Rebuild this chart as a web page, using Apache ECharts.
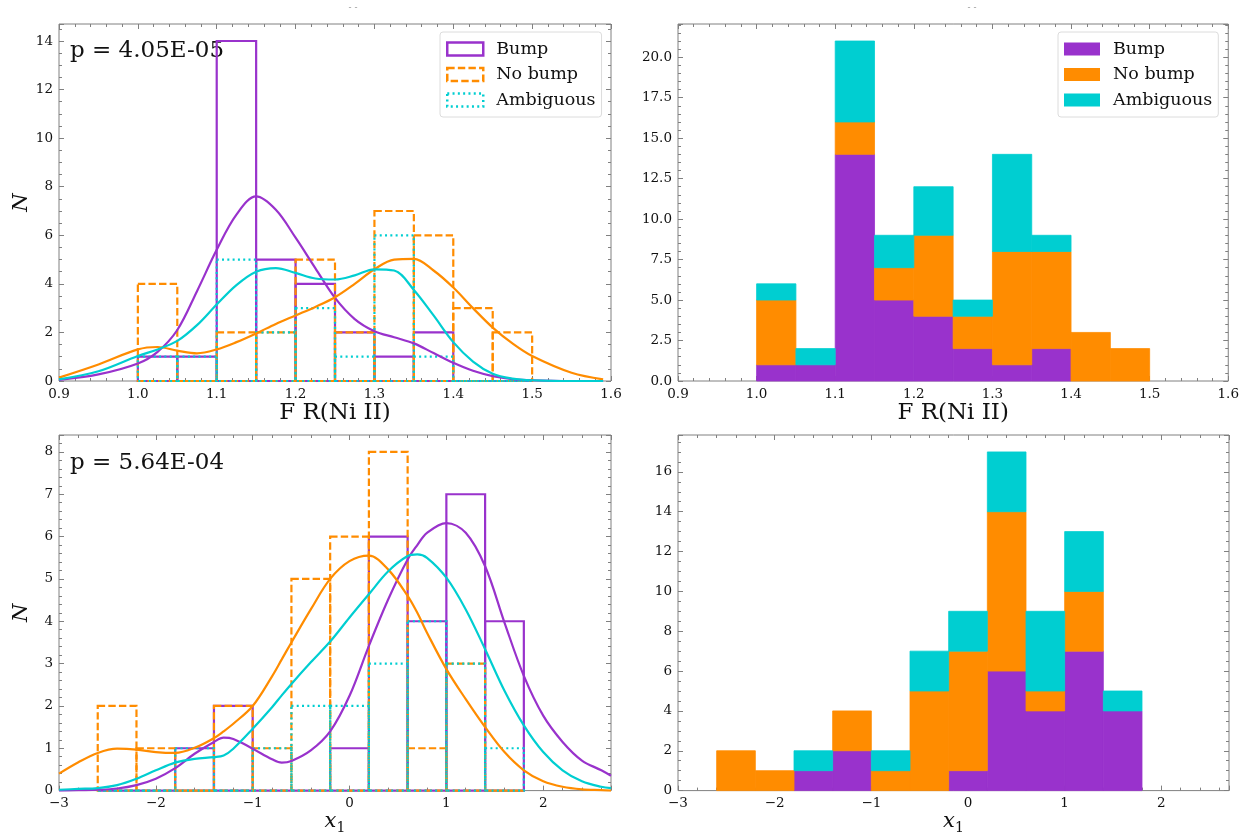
<!DOCTYPE html>
<html>
<head>
<meta charset="utf-8">
<script src="https://cdn.jsdelivr.net/npm/echarts@6/dist/echarts.min.js"></script>
<style>
html,body{margin:0;padding:0;background:#fff;}
#chart{width:1242px;height:836px;}
</style>
</head>
<body>
<div id="chart"></div>
<script>
// ---------------- DATA ----------------
// Top row: F R(Ni II) histograms
const topEdges = [1.00, 1.05, 1.10, 1.15, 1.20, 1.25, 1.30, 1.35, 1.40, 1.45, 1.50];
const topBump = [1, 1, 14, 5, 4, 2, 1, 2, 0, 0];
const topNoBump = [4, 0, 2, 2, 5, 2, 7, 6, 3, 2];
const topAmbig = [1, 1, 5, 2, 3, 1, 6, 1, 0, 0];

// Bottom row: x1 histograms
const botEdges = [-2.6, -2.2, -1.8, -1.4, -1.0, -0.6, -0.2, 0.2, 0.6, 1.0, 1.4, 1.8];
const botBump = [0, 0, 1, 2, 0, 0, 1, 6, 4, 7, 4];
const botNoBump = [2, 1, 0, 2, 1, 5, 6, 8, 1, 3, 0];
const botAmbig = [0, 0, 1, 0, 1, 2, 2, 3, 4, 3, 1];

// KDE curves (top-left panel)
const kdeTopX = [0.90, 0.95, 1.00, 1.025, 1.05, 1.075, 1.10, 1.125, 1.15, 1.175, 1.20, 1.225, 1.25, 1.275, 1.30, 1.325, 1.35, 1.375, 1.40, 1.425, 1.45, 1.475, 1.50, 1.55, 1.59];
const kdeTopBump = [0.05, 0.27, 0.72, 1.2, 2.1, 3.7, 5.4, 6.85, 7.6, 7.05, 5.9, 4.65, 3.42, 2.55, 2.05, 1.8, 1.55, 1.15, 0.75, 0.42, 0.2, 0.08, 0.03, 0.0, 0.0];
const kdeTopNoBump = [0.14, 0.68, 1.3, 1.4, 1.25, 1.14, 1.3, 1.6, 1.96, 2.35, 2.7, 3.05, 3.45, 4.0, 4.6, 5.0, 5.03, 4.55, 3.85, 3.0, 2.2, 1.55, 1.03, 0.34, 0.07];
const kdeTopAmbig = [0.07, 0.4, 1.03, 1.3, 1.65, 2.3, 3.15, 3.95, 4.5, 4.65, 4.45, 4.22, 4.18, 4.35, 4.6, 4.55, 3.75, 2.7, 1.6, 0.8, 0.3, 0.1, 0.03, 0.0, 0.0];

// KDE curves (bottom-left panel)
const kdeBotX = [-3.0, -2.8, -2.6, -2.4, -2.2, -2.0, -1.8, -1.6, -1.4, -1.3, -1.2, -1.0, -0.8, -0.7, -0.6, -0.4, -0.2, 0.0, 0.2, 0.4, 0.6, 0.7, 0.8, 1.0, 1.2, 1.4, 1.6, 1.8, 2.0, 2.2, 2.4, 2.6, 2.7];
const kdeBotBump = [0.0, 0.01, 0.02, 0.05, 0.13, 0.28, 0.53, 0.87, 1.15, 1.25, 1.22, 0.99, 0.74, 0.66, 0.7, 0.95, 1.4, 2.24, 3.42, 4.52, 5.46, 5.8, 6.09, 6.32, 6.09, 5.3, 3.97, 2.71, 1.77, 1.15, 0.71, 0.48, 0.35];
const kdeBotNoBump = [0.4, 0.67, 0.89, 0.99, 0.97, 0.91, 0.89, 1.01, 1.24, 1.4, 1.58, 2.0, 2.7, 3.1, 3.5, 4.28, 5.0, 5.42, 5.55, 5.22, 4.6, 4.2, 3.73, 2.87, 2.16, 1.5, 0.91, 0.48, 0.22, 0.09, 0.03, 0.01, 0.0];
const kdeBotAmbig = [0.02, 0.04, 0.06, 0.13, 0.28, 0.48, 0.66, 0.75, 0.79, 0.83, 0.99, 1.46, 1.97, 2.25, 2.52, 3.03, 3.52, 4.09, 4.64, 5.18, 5.54, 5.58, 5.5, 5.03, 4.28, 3.34, 2.36, 1.54, 0.91, 0.48, 0.22, 0.09, 0.06];

const groupNames = ['Bump', 'No bump', 'Ambiguous'];
const pTop = 'p = 4.05E-05';
const pBot = 'p = 5.64E-04';

// ---------------- STYLE ----------------
const PURPLE = '#9932CC', ORANGE = '#FF8C00', CYAN = '#00CED1';
const FONT = '"DejaVu Serif", "Liberation Serif", serif';
const AXC = '#808080';
const DASH = [7.4, 3.2], DOT = [2, 3.3];

const grids = [
  {left: 59, top: 24, width: 552, height: 357},
  {left: 678, top: 24, width: 551, height: 357},
  {left: 59, top: 435, width: 552, height: 357},
  {left: 678, top: 435, width: 551, height: 357}
].map(g => Object.assign({show: true, borderColor: AXC, borderWidth: 1, backgroundColor: 'transparent'}, g));

function minus(v) { return v < 0 ? '\u2212' + (-v) : String(v); }

function xAx(gi, min, max, interval, split, fmt, pos, name, nameOpt) {
  const a = {
    type: 'value', gridIndex: gi, min, max, interval, position: pos,
    axisLine: {show: false, onZero: false},
    axisTick: {show: true, inside: true, length: 5, lineStyle: {color: AXC, width: 1}},
    minorTick: {show: true, splitNumber: split, length: 3, lineStyle: {color: AXC, width: 1}},
    splitLine: {show: false}, minorSplitLine: {show: false},
    axisLabel: {show: pos === 'bottom', formatter: fmt, margin: 6, color: '#111', fontFamily: FONT, fontSize: 13.5,
      showMaxLabel: nameOpt && nameOpt.showMax === false ? false : true}
  };
  if (name) {
    a.name = name; a.nameLocation = 'middle'; a.nameGap = nameOpt.gap;
    a.nameTextStyle = nameOpt.style;
  }
  return a;
}
function yAx(gi, min, max, interval, split, fmt, pos, name) {
  const a = {
    type: 'value', gridIndex: gi, min, max, interval, position: pos,
    axisLine: {show: false, onZero: false},
    axisTick: {show: true, inside: true, length: 5, lineStyle: {color: AXC, width: 1}},
    minorTick: {show: true, splitNumber: split, length: 3, lineStyle: {color: AXC, width: 1}},
    splitLine: {show: false}, minorSplitLine: {show: false},
    axisLabel: {show: pos === 'left', formatter: fmt, margin: 6, color: '#111', fontFamily: FONT, fontSize: 13.5, showMaxLabel: false}
  };
  if (name) {
    a.name = name; a.nameLocation = 'middle'; a.nameGap = 27;
    a.nameTextStyle = {fontFamily: FONT, fontStyle: 'italic', fontSize: 21, color: '#111'};
  }
  return a;
}
const f1 = v => v.toFixed(1);
const f0 = v => String(v);

const xNameTop = {gap: 18, style: {fontFamily: FONT, fontSize: 23, color: '#111'}};
const xNameBot = {gap: 16, showMax: false, style: {color: '#111', rich: {
  i: {fontFamily: FONT, fontStyle: 'italic', fontSize: 21, color: '#111'},
  s: {fontFamily: FONT, fontSize: 14, color: '#111', padding: [12, 0, 0, 0]}
}}};

const xAxis = [
  xAx(0, 0.9, 1.6, 0.1, 5, f1, 'bottom', 'F R(Ni II)', xNameTop),
  xAx(1, 0.9, 1.6, 0.1, 5, f1, 'bottom', 'F R(Ni II)', xNameTop),
  xAx(2, -3, 2.7, 1, 5, minus, 'bottom', '{i|x}{s|1}', xNameBot),
  xAx(3, -3, 2.7, 1, 5, minus, 'bottom', '{i|x}{s|1}', xNameBot),
  xAx(0, 0.9, 1.6, 0.1, 5, f1, 'top'),
  xAx(1, 0.9, 1.6, 0.1, 5, f1, 'top'),
  xAx(2, -3, 2.7, 1, 5, minus, 'top'),
  xAx(3, -3, 2.7, 1, 5, minus, 'top')
];
const yAxis = [
  yAx(0, 0, 14.7, 2, 4, f0, 'left', 'N'),
  yAx(1, 0, 22.05, 2.5, 5, f1, 'left'),
  yAx(2, 0, 8.4, 1, 5, f0, 'left', 'N'),
  yAx(3, 0, 17.85, 2, 4, f0, 'left'),
  yAx(0, 0, 14.7, 2, 4, f0, 'right'),
  yAx(1, 0, 22.05, 2.5, 5, f1, 'right'),
  yAx(2, 0, 8.4, 1, 5, f0, 'right'),
  yAx(3, 0, 17.85, 2, 4, f0, 'right')
];

// outline histogram (one rectangle per bin)
function outlineSeries(name, edges, counts, color, dash, axi) {
  return {
    type: 'custom', name, xAxisIndex: axi, yAxisIndex: axi, silent: true,
    data: counts.map((c, i) => [edges[i], edges[i + 1], c]),
    encode: {x: [0, 1], y: 2},
    renderItem: (params, api) => {
      const p0 = api.coord([api.value(0), 0]);
      const p1 = api.coord([api.value(1), api.value(2)]);
      return {type: 'rect', shape: {x: p0[0], y: p1[1], width: p1[0] - p0[0], height: p0[1] - p1[1]},
        style: {fill: 'none', stroke: color, lineWidth: 2.2, lineDash: dash}};
    }
  };
}
// stacked filled histogram
function stackedSeries(name, edges, counts, below, color, axi) {
  return {
    type: 'custom', name, xAxisIndex: axi, yAxisIndex: axi, silent: true,
    data: counts.map((c, i) => [edges[i], edges[i + 1], below[i], below[i] + c]),
    encode: {x: [0, 1], y: [2, 3]},
    renderItem: (params, api) => {
      const p0 = api.coord([api.value(0), api.value(2)]);
      const p1 = api.coord([api.value(1), api.value(3)]);
      if (p0[1] - p1[1] < 0.01) return null;
      return {type: 'rect', shape: {x: p0[0], y: p1[1], width: p1[0] - p0[0], height: p0[1] - p1[1]},
        style: {fill: color, stroke: color, lineWidth: 0.8}};
    }
  };
}
function kdeSeries(name, xs, ys, color, axi) {
  return {
    type: 'line', name, xAxisIndex: axi, yAxisIndex: axi, silent: true,
    data: xs.map((x, i) => [x, ys[i]]), smooth: 0.35, showSymbol: false, symbol: 'none',
    lineStyle: {color, width: 2.2}, z: 3
  };
}
const zeros = n => new Array(n).fill(0);
const add = (a, b) => a.map((v, i) => v + b[i]);

const series = [
  outlineSeries('Bump', topEdges, topBump, PURPLE, null, 0),
  outlineSeries('No bump', topEdges, topNoBump, ORANGE, DASH, 0),
  outlineSeries('Ambiguous', topEdges, topAmbig, CYAN, DOT, 0),
  kdeSeries('kde top bump', kdeTopX, kdeTopBump, PURPLE, 0),
  kdeSeries('kde top nobump', kdeTopX, kdeTopNoBump, ORANGE, 0),
  kdeSeries('kde top ambig', kdeTopX, kdeTopAmbig, CYAN, 0),

  stackedSeries('Bump', topEdges, topBump, zeros(topBump.length), PURPLE, 1),
  stackedSeries('No bump', topEdges, topNoBump, topBump, ORANGE, 1),
  stackedSeries('Ambiguous', topEdges, topAmbig, add(topBump, topNoBump), CYAN, 1),

  outlineSeries('x1 bump', botEdges, botBump, PURPLE, null, 2),
  outlineSeries('x1 nobump', botEdges, botNoBump, ORANGE, DASH, 2),
  outlineSeries('x1 ambig', botEdges, botAmbig, CYAN, DOT, 2),
  kdeSeries('kde bot bump', kdeBotX, kdeBotBump, PURPLE, 2),
  kdeSeries('kde bot nobump', kdeBotX, kdeBotNoBump, ORANGE, 2),
  kdeSeries('kde bot ambig', kdeBotX, kdeBotAmbig, CYAN, 2),

  stackedSeries('x1 bump s', botEdges, botBump, zeros(botBump.length), PURPLE, 3),
  stackedSeries('x1 nobump s', botEdges, botNoBump, botBump, ORANGE, 3),
  stackedSeries('x1 ambig s', botEdges, botAmbig, add(botBump, botNoBump), CYAN, 3)
];

const legendBase = {
  orient: 'vertical', itemWidth: 36, itemHeight: 13, itemGap: 7.5, icon: 'rect',
  padding: [8, 6, 8, 6], borderColor: '#dcdcdc', borderWidth: 1, borderRadius: 3,
  backgroundColor: 'rgba(255,255,255,0.8)', selectedMode: false,
  textStyle: {fontFamily: FONT, fontSize: 17.5, color: '#111', padding: [0, 0, 0, 8]}
};
const legend = [
  Object.assign({}, legendBase, {left: 440, top: 32, data: [
    {name: groupNames[0], itemStyle: {color: 'rgba(255,255,255,0)', borderColor: PURPLE, borderWidth: 2.5, borderType: 'solid'}},
    {name: groupNames[1], itemStyle: {color: 'rgba(255,255,255,0)', borderColor: ORANGE, borderWidth: 2.5, borderType: DASH}},
    {name: groupNames[2], itemStyle: {color: 'rgba(255,255,255,0)', borderColor: CYAN, borderWidth: 2.5, borderType: DOT}}
  ]}),
  Object.assign({}, legendBase, {left: 1058, top: 32, data: [
    {name: groupNames[0], itemStyle: {color: PURPLE, borderWidth: 0}},
    {name: groupNames[1], itemStyle: {color: ORANGE, borderWidth: 0}},
    {name: groupNames[2], itemStyle: {color: CYAN, borderWidth: 0}}
  ]})
];

const graphic = [
  {type: 'text', x: 70, y: 51, style: {text: pTop, font: '23px ' + FONT, fill: '#111', verticalAlign: 'middle'}},
  {type: 'text', x: 70, y: 463, style: {text: pBot, font: '23px ' + FONT, fill: '#111', verticalAlign: 'middle'}},
  {type: 'text', x: 353, y: 8, style: {text: '- -', font: '9px ' + FONT, fill: '#999', align: 'center', verticalAlign: 'middle'}},
  {type: 'text', x: 972, y: 8, style: {text: '- -', font: '9px ' + FONT, fill: '#999', align: 'center', verticalAlign: 'middle'}}
];

const chart = echarts.init(document.getElementById('chart'), null, {renderer: 'canvas'});
chart.setOption({
  animation: false,
  backgroundColor: '#fff',
  grid: grids, xAxis, yAxis, series, legend, graphic
});
</script>
</body>
</html>
